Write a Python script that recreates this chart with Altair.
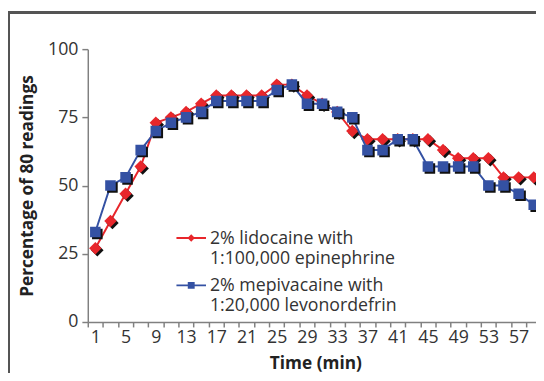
import altair as alt
import pandas as pd

minutes = [1, 3, 5, 7, 9, 11, 13, 15, 17, 19, 21, 23, 25, 27, 29,
           31, 33, 35, 37, 39, 41, 43, 45, 47, 49, 51, 53, 55, 57, 59]
lidocaine = [27, 37, 47, 57, 73, 75, 77, 80, 83, 83, 83, 83, 87, 87, 83,
             80, 77, 70, 67, 67, 67, 67, 67, 63, 60, 60, 60, 53, 53, 53]
mepivacaine = [33, 50, 53, 63, 70, 73, 75, 77, 81, 81, 81, 81, 85, 87, 80,
               80, 77, 75, 63, 63, 67, 67, 57, 57, 57, 57, 50, 50, 47, 43]
series_names = ["2% lidocaine with|1:100,000 epinephrine",
                "2% mepivacaine with|1:20,000 levonordefrin"]
colors = ["#E8262B", "#3451A3"]
shapes = ["diamond", "square"]
sizes = [160, 115]
legend_paths = [
    "M-1.5,0.68H1.5V0.88H-1.5Z M0,0.4L0.38,0.78L0,1.16L-0.38,0.78Z",
    "M-1.5,0.68H1.5V0.88H-1.5Z M-0.35,0.43H0.35V1.13H-0.35Z",
]

rows = []
for name, vals in zip(series_names, [lidocaine, mepivacaine]):
    for m, v in zip(minutes, vals):
        rows.append({"minute": m, "value": v, "series": name})
df = pd.DataFrame(rows)

FONT = "Open Sans"

x_enc = alt.X(
    "minute:Q",
    scale=alt.Scale(domain=[0, 59.3], nice=False, zero=False),
    axis=alt.Axis(
        values=list(range(0, 60)),
        labelExpr="datum.value % 4 == 1 ? datum.value : ''",
        tickOpacity={"condition": {"test": "datum.value % 2 == 0", "value": 1}, "value": 0},
        labelOverlap=False,
        labelFlush=False,
        grid=False,
        tickSize=5,
        labelPadding=2,
        title="Time (min)",
        titleX=231,
        titleY=42,
        titleBaseline="middle",
    ),
)
y_enc = alt.Y(
    "value:Q",
    scale=alt.Scale(domain=[0, 100], nice=False),
    axis=alt.Axis(
        values=[0, 25, 50, 75, 100],
        grid=False,
        tickSize=6,
        labelPadding=4,
        title="Percentage of 80 readings",
        titleX=-61,
        titleBaseline="middle",
    ),
)

base = alt.Chart(df).encode(x=x_enc, y=y_enc)

layers = []
for i, name in enumerate(series_names):
    sub = base.transform_filter(alt.datum.series == name)
    layers.append(sub.mark_line(color=colors[i], strokeWidth=2, clip=True))
    layers.append(sub.mark_point(shape=shapes[i], filled=True, color="#111111", size=sizes[i],
                                 opacity=1, xOffset=2, yOffset=2, clip=True))
    layers.append(sub.mark_point(shape=shapes[i], filled=True, color=colors[i], size=sizes[i],
                                 opacity=1, clip=True))

leg = dict(
    orient="none", legendX=95, legendY=174, title=None,
    labelExpr="split(datum.label, '|')",
    labelFont=FONT, labelFontSize=18, labelColor="#333333",
    symbolSize=400, symbolStrokeWidth=0, symbolOpacity=1,
    labelOffset=9, rowPadding=-6, labelBaseline="top", labelLimit=400,
)
legend_layer = alt.Chart(df).transform_filter("datum.value < 0").mark_point(
    filled=True, opacity=1
).encode(
    x=x_enc, y=y_enc,
    color=alt.Color("series:N", scale=alt.Scale(domain=series_names, range=colors),
                    legend=alt.Legend(**leg)),
    shape=alt.Shape("series:N", scale=alt.Scale(domain=series_names, range=legend_paths),
                    legend=alt.Legend(**leg)),
)

frame_top = alt.Chart(df).mark_rule(color="#555555", strokeWidth=2, clip=False).encode(
    x=alt.value(-80), x2=alt.value(470), y=alt.value(-37.5))
frame_left = alt.Chart(df).mark_rule(color="#555555", strokeWidth=2, clip=False).encode(
    x=alt.value(-80), y=alt.value(-38.5), y2=alt.value(400))

chart = alt.layer(frame_top, frame_left, *layers, legend_layer).properties(
    width=455, height=277,
    autosize=alt.AutoSizeParams(type="none"),
    padding={"left": 81, "top": 39, "right": 0, "bottom": 49},
).configure_view(stroke=None).configure_axis(
    labelFont=FONT, labelFontSize=18, labelColor="#333333",
    titleFont=FONT, titleFontSize=17.5, titleFontWeight="bold", titleColor="#222222",
    domainColor="#808080", domainWidth=1.5, tickColor="#808080", tickWidth=1.5,
).configure_legend(labelFont=FONT)

chart.save("out.html", embed_options={"renderer": "svg", "actions": False})
